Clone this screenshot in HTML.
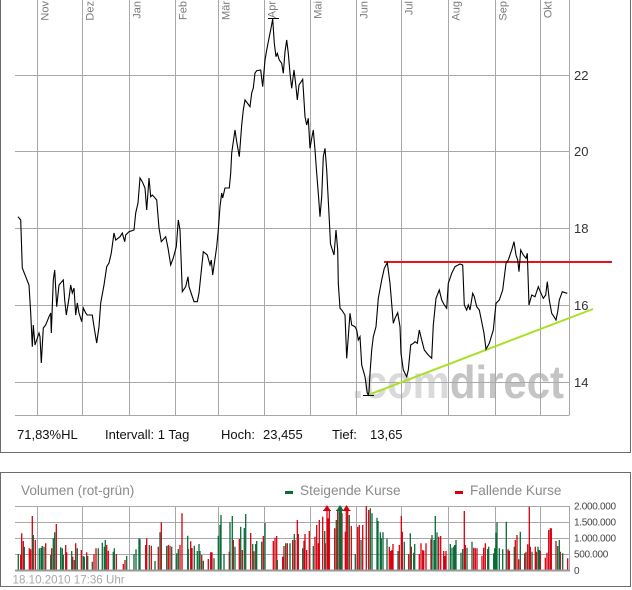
<!DOCTYPE html>
<html><head><meta charset="utf-8"><style>
html,body{margin:0;padding:0;background:#fff;}
svg{display:block;}
text{font-family:"Liberation Sans",Arial,sans-serif;}
</style></head><body>
<svg width="632" height="590" viewBox="0 0 632 590" xmlns="http://www.w3.org/2000/svg">
<rect x="0" y="0" width="632" height="590" fill="#fff"/>
<!-- panels -->
<rect x="0.5" y="-5" width="630" height="457.5" fill="#fff" stroke="#6c6c6c" stroke-width="1"/>
<rect x="0.5" y="472.5" width="630" height="114" fill="#fff" stroke="#6c6c6c" stroke-width="1"/>

<!-- watermark -->
<text x="352" y="398" font-size="46" font-weight="bold" textLength="212" lengthAdjust="spacingAndGlyphs"><tspan fill="#dadada">.com</tspan><tspan fill="#c4c4c4">direct</tspan></text>

<!-- price grid -->
<g stroke="#a8a8a8" stroke-width="1" fill="none">
<path d="M37.5 0V415M82.5 0V415M129.5 0V415M175.5 0V415M218.5 0V415M264.5 0V415M310.5 0V415M356.5 0V415M401.5 0V415M448.5 0V415M495.5 0V415M540.5 0V415M569.5 0V415"/>
<path d="M15 75.5H569.5M15 151.5H569.5M15 228.5H569.5M15 305.5H569.5M15 382.5H569.5M15 415.5H569.5"/>
</g>

<!-- month labels -->
<g font-size="11" fill="#7a7a7a" text-anchor="end">
<text transform="translate(48.5,1) rotate(-90)">Nov</text>
<text transform="translate(93.5,1) rotate(-90)">Dez</text>
<text transform="translate(140.5,1) rotate(-90)">Jan</text>
<text transform="translate(186.5,1) rotate(-90)">Feb</text>
<text transform="translate(229.5,1) rotate(-90)">Mär</text>
<text transform="translate(275.5,1) rotate(-90)">Apr</text>
<text transform="translate(321.5,1) rotate(-90)">Mai</text>
<text transform="translate(367.5,1) rotate(-90)">Jun</text>
<text transform="translate(412.5,1) rotate(-90)">Jul</text>
<text transform="translate(459.5,1) rotate(-90)">Aug</text>
<text transform="translate(506.5,1) rotate(-90)">Sep</text>
<text transform="translate(551.5,1) rotate(-90)">Okt</text>
</g>

<!-- price axis labels -->
<g font-size="13" fill="#333">
<text x="574" y="80">22</text>
<text x="574" y="156">20</text>
<text x="574" y="233">18</text>
<text x="574" y="310">16</text>
<text x="574" y="387">14</text>
</g>

<!-- trend lines -->
<line x1="384" y1="262" x2="612" y2="262" stroke="#e4141c" stroke-width="2"/>
<line x1="368" y1="395" x2="593" y2="309" stroke="#a8e024" stroke-width="2"/>

<!-- price line -->
<polyline fill="none" stroke="#000" stroke-width="1.1" stroke-linejoin="miter" points="18,216.7 20.7,220 22.3,268 25.7,276.7 29,285 30.7,313 32.3,346.7 33.3,325 35,345 36.7,340 39,333 40,336.7 41.3,363 43.3,328 45.7,325 49,316.7 50.7,313 51.3,333 53.3,280 54.7,270 56.7,306.7 59,285 60.7,283 63.3,280 64.7,300 66.3,315 69,298 70.7,285 72.3,293 74,288 75.7,315 77.3,303 79,313 81.7,321.7 83.3,308 85.7,313 87.3,315 92.3,315 94,326.7 96.7,343 99,326.7 100.7,303 104,285 106.7,266.7 109,263 111.3,253 114,233 115.7,240 120,236.7 122.3,233 124.7,241.7 125.7,235 129,231.7 134,230 135.7,213 138,203 140,178 142.3,181.7 145,188 146.7,210 149,178 150.7,196.7 152.3,195 154,196.7 156.7,200 159,228 161.3,241.7 165.7,236.7 168,248 170.7,265 173.3,258 176.3,246.7 178.3,220 180,230 182.3,291.7 185.7,286.7 188,276.7 189,286.7 194,301.7 197.3,301.7 199,293 200.7,276.7 203.3,251.7 207.3,255 210,265 211.3,260 212.7,275 216.7,246.7 218.3,230 220,206.7 221.7,193 222.7,198 225,188 229.3,188 230.7,173 231.7,153 233.3,141.7 235,130 236.7,141.7 239.3,156.7 241.7,125 243.3,110 245,100 247.3,103 250,106.7 251.7,93 253.3,88 255,73 256.7,70.7 260.7,70 262.7,86.7 265,60 266.7,50 269.3,36.7 271,28.3 272.7,19 274.3,43.3 276,56.7 277.3,53.3 279.3,60 281.7,63.3 283.3,73.3 285,51.7 286.7,40 288.3,53.3 290,73.3 291.7,88.3 294,70 296,86.7 297.3,100 299,85 302.7,79.3 305,116.7 306.7,125 308.3,118.3 310,148.3 311.7,138.3 313.3,130 315,150 316.7,173.3 318.3,193.3 320,216.7 321.7,196.7 323.3,156.7 325,148.3 326.7,170 329.3,220 330.5,244 334,255 336,230 337.7,250 338.3,283.3 340,308.3 341.7,310 345,315 346.7,358.3 348.3,336.7 350,313.3 351.7,325 355,326.7 356.7,330 358.3,340 360,336.7 361.7,365 365,376.7 367.3,393.3 368.3,395 369,391.7 370,373.3 371.7,350 373.3,336.7 376,326.7 378.3,298.3 381.7,280 384.3,268.3 387.3,262.7 390,283.3 393.3,323.3 395,318.3 397.7,312.7 400,326.7 401,353.3 403.3,370 406.7,376.7 408.3,370 410.7,345 413.3,343.3 415,341.7 417.3,343.3 419.3,330 421.7,340 424.3,350 428.3,355 431.7,358.3 433.3,325 436,298.3 439.3,290 441.7,300 444.3,305 446.7,308.3 448.3,283.3 451.7,273.3 455,266.7 460,264 462.7,265 464.3,305 466.7,310 468.3,305 470,310 472.7,293.3 474.3,296.7 476.7,306.7 479.3,310 481.7,321.7 484,333.3 486,349.3 489.3,343.3 493.3,330 496,303.3 499.3,300 502.7,290 506,263.3 508.3,260 511.7,250 514,241.7 516,255 517.7,260 519,271.7 520.7,250 523.3,255 526,258.3 527.3,253.3 529,305 531.7,295 535,296.7 538.3,286.7 541,293.3 543.3,298.3 545.7,295 547.3,281.7 549.3,300 551.7,313.3 554,316.7 556,320 557.7,311.7 559.3,300 562.3,291.7 565,292.7 567.3,293.3"/>
<!-- high/low markers -->
<line x1="268" y1="18.5" x2="279" y2="18.5" stroke="#000" stroke-width="1"/>
<line x1="363" y1="395.5" x2="374" y2="395.5" stroke="#000" stroke-width="1"/>

<!-- info row -->
<g font-size="13" fill="#111">
<text x="17" y="439">71,83%HL</text>
<text x="105" y="439">Intervall: 1 Tag</text>
<text x="221" y="439">Hoch:</text>
<text x="263" y="439">23,455</text>
<text x="332" y="439">Tief:</text>
<text x="370" y="439">13,65</text>
</g>

<!-- volume header -->
<text x="21" y="495" font-size="13.6" fill="#8a8a8a">Volumen (rot-grün)</text>
<rect x="285" y="491" width="8" height="3" fill="#0a6b38"/>
<text x="300" y="495" font-size="13.6" fill="#8a8a8a">Steigende Kurse</text>
<rect x="455" y="491" width="8" height="3" fill="#d80010"/>
<text x="470" y="495" font-size="13.6" fill="#8a8a8a">Fallende Kurse</text>

<!-- volume grid -->
<g stroke="#a8a8a8" stroke-width="1" fill="none">
<path d="M37.5 506V570M82.5 506V570M129.5 506V570M175.5 506V570M218.5 506V570M264.5 506V570M310.5 506V570M356.5 506V570M401.5 506V570M448.5 506V570M495.5 506V570M540.5 506V570M569.5 506V570"/>
<path d="M15 506.5H569.5M15 522.5H569.5M15 538.5H569.5M15 554.5H569.5"/>
</g>

<!-- volume bars -->
<path fill="none" stroke="#d80010" stroke-width="1.3" d="M20.7 570V555M21.7 570V533.3M23.3 570V541M29.3 570V548.3M30.7 570V549.3M32.3 570V516M35.3 570V540M45.7 570V543.3M51.7 570V548.3M56.3 570V524M65.7 570V545M66.7 570V552.3M72.7 570V556.7M75.7 570V543.3M81.3 570V550M86.7 570V552.3M94 570V554.3M96 570V548.3M106.7 570V545M108.3 570V550.7M116.3 570V554M123.3 570V564M125 570V560M145.7 570V545M146.7 570V538.3M151.3 570V545.7M158.3 570V546.7M161.3 570V522.3M168.3 570V545M170 570V545.7M180 570V545M182 570V513.3M190.7 570V541.3M192 570V548M201.7 570V555M208.3 570V559M210.7 570V552.3M212 570V552.3M229.3 570V551.7M233.3 570V540M239.3 570V539M242.3 570V550M250.7 570V533M254 570V551.3M263.3 570V536M273.3 570V541M275 570V537.7M276.7 570V536M282.7 570V556.7M284 570V546M287.3 570V543.3M292.7 570V540M295 570V540M297.3 570V520M298.3 570V534M304 570V540.7M305 570V534M306.7 570V550M309.3 570V531M315 570V536.7M316.7 570V525M318.3 570V543.3M319.3 570V520M322.7 570V516.7M325.3 570V543.3M327 570V508.3M328 570V518.3M329.3 570V510M334.7 570V528.3M337.7 570V510M342 570V513.3M345.3 570V531.7M346.3 570V508.3M347.7 570V510M351.3 570V526M357.7 570V526.7M359.3 570V525M362.7 570V525M366.3 570V506M368.7 570V510M389.3 570V546.7M390.7 570V551M392 570V550M393 570V544M399.3 570V545M401.3 570V516M402.3 570V531.7M408.7 570V554.3M411.3 570V546.7M419.3 570V554M421 570V543.3M422.7 570V550M423.7 570V550.7M426 570V543.3M431 570V539.3M438.7 570V536.7M440.7 570V536M443.7 570V551M444.7 570V556M446 570V551M464.3 570V511M465.3 570V545M473.7 570V547.7M475.3 570V548.3M477 570V548.3M482 570V555.7M483.7 570V547.7M485.3 570V543.3M508 570V549.3M509.3 570V550.7M515.3 570V540M517 570V535M518.7 570V559.3M524.7 570V553.3M527.7 570V544.3M529.3 570V506.7M530.3 570V546.7M535.3 570V546.7M536.3 570V551.7M540.3 570V551M545.3 570V557.7M547 570V552.7M548.7 570V530M550.3 570V528.3M551.3 570V528.3M556 570V541M560.3 570V551.7M567.7 570V558.3"/>
<path fill="none" stroke="#0a6b38" stroke-width="1.3" d="M18.3 570V554M24.3 570V546.7M33.3 570V535M39.3 570V548.3M41 570V547.7M42.3 570V546M44 570V546.7M50.7 570V555M53.3 570V538.3M54.7 570V532.3M60.7 570V547.3M62.3 570V548.3M63.3 570V555M71.7 570V551M74.3 570V560M77.3 570V548.3M83.3 570V556M84.3 570V556.7M87.7 570V556M92.3 570V561.7M98.3 570V548.3M102.3 570V542.7M104.3 570V546.7M105.3 570V540M113.3 570V551.7M114.3 570V548.3M126.7 570V556M134 570V554M136 570V549.3M139 570V538.3M140 570V539.3M149.3 570V545M155 570V561M160 570V532.3M166.7 570V546M171.7 570V546.7M176.7 570V553.3M178.3 570V549M187.7 570V535.7M188.3 570V549M194.3 570V545.7M197.3 570V551M199 570V544M200 570V551M203.3 570V560.7M214 570V558.3M218.3 570V535.7M220 570V525M221 570V515M224 570V554M230 570V522.3M232.3 570V516M235 570V546.7M240.7 570V526.7M244.3 570V528M245.7 570V514M252.7 570V544M255.7 570V544M256.7 570V541M261.7 570V541.7M265 570V523M277.3 570V560M285.7 570V543.3M290 570V543.3M294.3 570V534M302.7 570V548.3M313.3 570V546M324.7 570V531M336.3 570V520M339.3 570V508.3M340.3 570V510M341.3 570V507.3M349.3 570V515M355.3 570V554M361 570V540M370.3 570V508.3M372 570V513.3M377 570V517.7M378 570V521M380.3 570V532.3M381.3 570V538.3M383 570V532.3M387 570V538.7M398 570V551M404.3 570V541.7M410.3 570V533.3M413.7 570V552.7M414.7 570V544M432 570V535M434 570V540M435.3 570V516M437 570V532.3M450.3 570V544M452 570V547.7M453.7 570V546.7M454.7 570V545M456 570V540M461 570V552.7M462.7 570V549M467 570V547.7M472 570V541.7M487.7 570V549M488.7 570V546.7M493.7 570V553.3M494.7 570V548.3M496 570V532.7M497 570V522.3M499.3 570V548.3M502.7 570V549.3M506.3 570V521.7M514.3 570V546.7M520.3 570V531.7M526 570V551.7M532 570V551.7M538 570V546.7M539.3 570V550M557.7 570V546M559.3 570V540M562.7 570V553.3"/>
<!-- overflow arrows -->
<polygon points="327,505 323.5,510.5 330.5,510.5" fill="#d80010"/>
<line x1="323" y1="510.5" x2="331" y2="510.5" stroke="#d80010" stroke-width="1"/>
<polygon points="340,505 336.5,510.5 343.5,510.5" fill="#0a6b38"/>
<line x1="336" y1="510.5" x2="344" y2="510.5" stroke="#0a6b38" stroke-width="1"/>
<polygon points="346.5,505 343,510.5 350,510.5" fill="#d80010"/>
<line x1="342.5" y1="510.5" x2="350.5" y2="510.5" stroke="#d80010" stroke-width="1"/>

<!-- volume baseline -->
<rect x="15" y="569.5" width="555" height="2" fill="#9a9a9a"/>

<!-- volume axis labels -->
<g font-size="10" fill="#444" letter-spacing="-0.3">
<text x="574" y="509.5">2.000.000</text>
<text x="574" y="525.5">1.500.000</text>
<text x="574" y="541.5">1.000.000</text>
<text x="574" y="557.5">500.000</text>
<text x="574" y="574">0</text>
</g>

<!-- timestamp -->
<text x="12.5" y="583.5" font-size="11.6" fill="#a8a8a8">18.10.2010 17:36 Uhr</text>
</svg>
</body></html>
